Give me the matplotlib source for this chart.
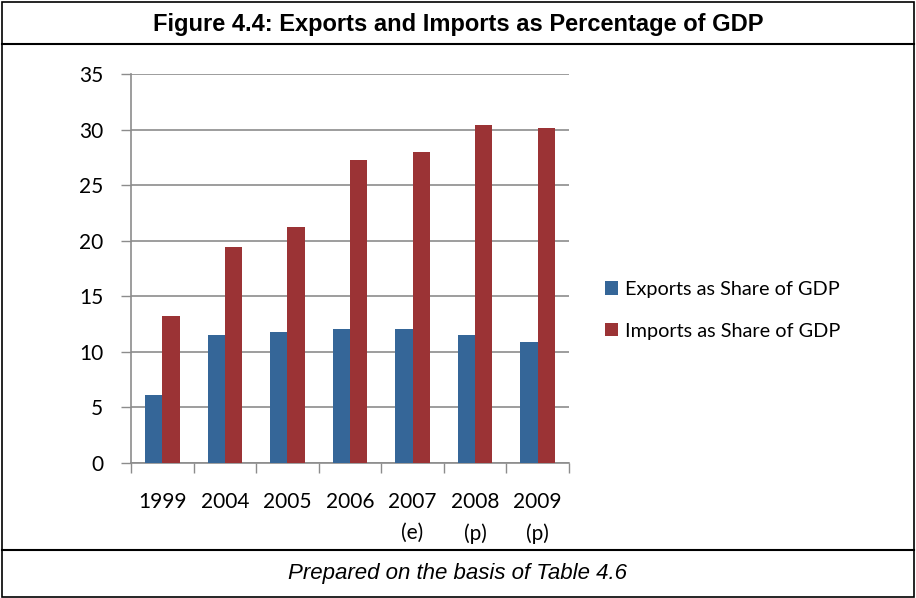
import numpy as np
import matplotlib.pyplot as plt
from matplotlib.lines import Line2D
from matplotlib.patches import Rectangle

years = ['1999', '2004', '2005', '2006', '2007\n(e)', '2008\n(p)', '2009\n(p)']
exports = [6.1, 11.5, 11.8, 12.1, 12.1, 11.5, 10.9]
imports = [13.2, 19.4, 21.2, 27.3, 28.0, 30.4, 30.1]

blue = '#356698'
red = '#9b3335'

fig = plt.figure(figsize=(9.16, 5.98), dpi=100)
ax = fig.add_axes([131 / 916, 135 / 598, 438 / 916, 389 / 598])

x = np.arange(len(years))
w = 0.277
ax.bar(x - w / 2, exports, w, color=blue, label='Exports as Share of GDP', zorder=3)
ax.bar(x + w / 2, imports, w, color=red, label='Imports as Share of GDP', zorder=3)

ax.set_xlim(-0.5, len(years) - 0.5)
ax.set_ylim(0, 35)
ax.set_yticks(range(0, 36, 5))
ax.yaxis.grid(True, color='#8c8c8c', linewidth=1.2)
ax.set_axisbelow(True)

# category labels sit between the boundary ticks
ax.set_xticks(x)
ax.set_xticklabels(years, fontfamily='Lato', fontsize=15, linespacing=1.65,
                   va='top')
ax.tick_params(axis='x', length=0, pad=21)
ax.set_xticks(np.arange(-0.5, len(years)), minor=True)
ax.tick_params(axis='x', which='minor', length=7, color='#8c8c8c', width=1)
ax.tick_params(axis='y', length=7, color='#8c8c8c', width=1, pad=13,
               labelsize=15)
for lab in ax.get_yticklabels():
    lab.set_fontfamily('Lato')

for side in ['top', 'right']:
    ax.spines[side].set_visible(False)
ax.spines['left'].set_color('#8c8c8c')
ax.spines['bottom'].set_color('#8c8c8c')
ax.spines['left'].set_linewidth(1.2)
ax.spines['bottom'].set_linewidth(1.2)

fig.legend(loc='upper left', bbox_to_anchor=(587 / 916, 1 - 263 / 598),
           frameon=False, prop={'family': 'Lato', 'size': 14.3},
           handlelength=0.65, handleheight=0.65, handletextpad=0.35,
           labelspacing=1.25)

# frame with title and footer bands
fig.add_artist(Rectangle((2 / 916, 1 / 598), 912 / 916, 595 / 598,
                         transform=fig.transFigure, fill=False,
                         edgecolor='black', linewidth=1.2))
fig.add_artist(Line2D([2 / 916, 914 / 916], [1 - 44 / 598] * 2,
                      transform=fig.transFigure, color='black', linewidth=1.5))
fig.add_artist(Line2D([2 / 916, 914 / 916], [1 - 550 / 598] * 2,
                      transform=fig.transFigure, color='black', linewidth=1.5))

fig.text(0.5, 1 - 25 / 598, 'Figure 4.4: Exports and Imports as Percentage of GDP',
         ha='center', va='center', fontfamily='Liberation Sans',
         fontweight='bold', fontsize=17)
fig.text(0.5, 1 - 574 / 598, 'Prepared on the basis of Table 4.6',
         ha='center', va='center', fontfamily='Liberation Sans',
         style='italic', fontsize=16)

fig.savefig('out.png', dpi=100)
